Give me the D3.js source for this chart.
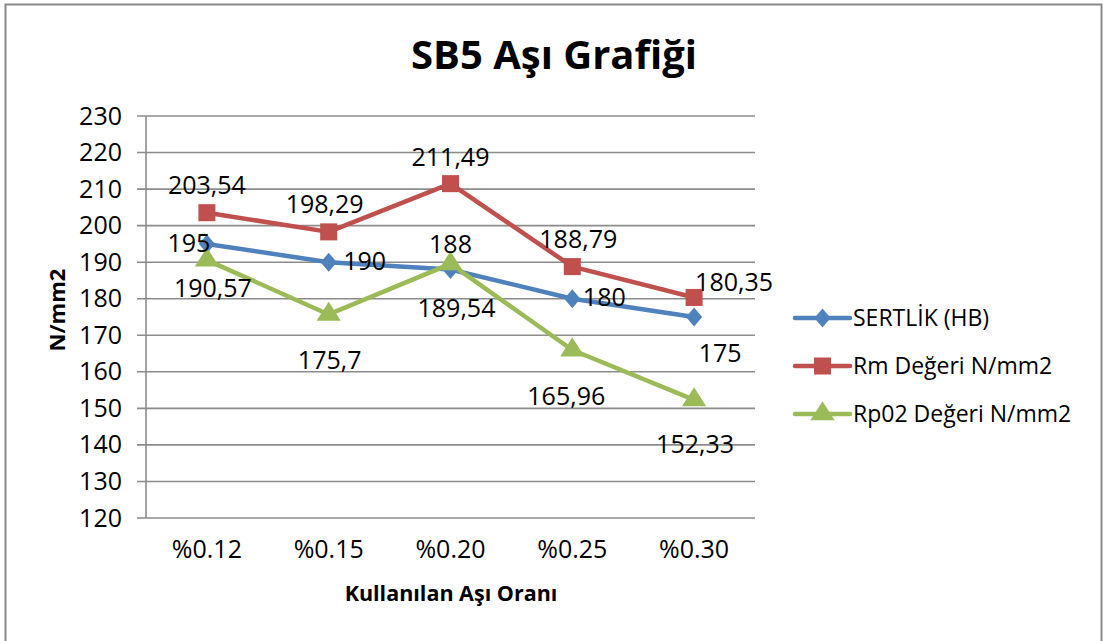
<!DOCTYPE html>
<html>
<head>
<meta charset="utf-8">
<script src="https://cdn.jsdelivr.net/npm/d3@7"></script>
<style>
  body { margin: 0; background: #fff; }
  text { font-family: "Open Sans", "Noto Sans", sans-serif; fill: #000; }
</style>
</head>
<body>
<script>
// chart data
const categories = ['%0.12', '%0.15', '%0.20', '%0.25', '%0.30'];
const sertlik = [195, 190, 188, 180, 175];
const rmDegeri = [203.54, 198.29, 211.49, 188.79, 180.35];
const rp02Degeri = [190.57, 175.7, 189.54, 165.96, 152.33];
const seriesNames = ['SERTLİK (HB)', 'Rm Değeri N/mm2', 'Rp02 Değeri N/mm2'];
const yTicks = [120, 130, 140, 150, 160, 170, 180, 190, 200, 210, 220, 230];

const width = 1103, height = 641;
const margin = { left: 146, right: 348, top: 116, bottom: 123 };

const svg = d3.select('body').append('svg')
    .attr('width', width)
    .attr('height', height);

// outer chart border
svg.append('rect')
    .attr('x', 5.5).attr('y', 4.5)
    .attr('width', 1096).attr('height', 660)
    .attr('fill', 'none')
    .attr('stroke', '#8a8a8a')
    .attr('stroke-width', 2);

const x = d3.scaleBand().domain(categories).range([margin.left, width - margin.right]);
const y = d3.scaleLinear().domain([120, 230]).range([height - margin.bottom, margin.top]);

// gridlines
svg.append('g')
    .selectAll('line')
    .data(yTicks)
    .join('line')
    .attr('x1', margin.left - 9)
    .attr('x2', width - margin.right)
    .attr('y1', d => y(d))
    .attr('y2', d => y(d))
    .attr('stroke', '#8c8c8c')
    .attr('stroke-width', 1.6);

// y axis line
svg.append('line')
    .attr('x1', margin.left).attr('x2', margin.left)
    .attr('y1', y(230)).attr('y2', y(120))
    .attr('stroke', '#8c8c8c')
    .attr('stroke-width', 1.6);

const yAxis = d3.axisLeft(y).tickValues(yTicks).tickSize(0).tickPadding(24);
svg.append('g')
    .attr('transform', `translate(${margin.left},0)`)
    .call(yAxis)
    .call(g => g.select('.domain').remove())
    .selectAll('text')
    .style('font-size', '25px')
    .attr('fill', '#000');

const xAxis = d3.axisBottom(x).tickSize(0).tickPadding(22);
svg.append('g')
    .attr('transform', `translate(0,${y(120)})`)
    .call(xAxis)
    .call(g => g.select('.domain').remove())
    .selectAll('text')
    .style('font-size', '25px')
    .attr('fill', '#000');

// titles
svg.append('text')
    .attr('x', 554).attr('y', 69)
    .attr('text-anchor', 'middle')
    .style('font-size', '40px')
    .style('font-weight', 'bold')
    .text('SB5 Aşı Grafiği');

svg.append('text')
    .attr('x', 451).attr('y', 601)
    .attr('text-anchor', 'middle')
    .style('font-size', '21.5px')
    .style('font-weight', 'bold')
    .text('Kullanılan Aşı Oranı');

svg.append('text')
    .attr('transform', 'translate(65,310) rotate(-90)')
    .attr('text-anchor', 'middle')
    .style('font-size', '22px')
    .style('font-weight', 'bold')
    .text('N/mm2');

const fmt = d3.formatLocale({ decimal: ',', thousands: '.', grouping: [3], currency: ['', ''] }).format('~f');

const series = [
    { name: seriesNames[0], values: sertlik, color: '#4f81bd', symbol: d3.symbolSquare, size: 180, rotate: 45, sx: 0.85,
      place: [[-18, -1], [36, -1], [0, -25], [32, -2], [26, 36]] },
    { name: seriesNames[1], values: rmDegeri, color: '#c0504d', symbol: d3.symbolSquare, size: 290, rotate: 0, sx: 1,
      place: [[0, -28], [-4, -28], [0, -27], [6, -28], [40, -15]] },
    { name: seriesNames[2], values: rp02Degeri, color: '#9bbb59', symbol: d3.symbolTriangle, size: 210, rotate: 0, sx: 1.1,
      place: [[6, 28], [1, 46], [6, 44], [-6, 46], [1, 44]] }
];

const line = d3.line()
    .x((d, i) => x(categories[i]) + x.bandwidth() / 2)
    .y(d => y(d));

const markerTransform = (s, cx, cy) => `translate(${cx},${cy}) scale(${s.sx},1) rotate(${s.rotate})`;

series.forEach(s => {
    svg.append('path')
        .datum(s.values)
        .attr('d', line)
        .attr('fill', 'none')
        .attr('stroke', s.color)
        .attr('stroke-width', 4.5)
        .attr('stroke-linejoin', 'round');
});

series.forEach(s => {
    svg.append('g')
        .selectAll('path')
        .data(s.values)
        .join('path')
        .attr('d', d3.symbol().type(s.symbol).size(s.size))
        .attr('fill', s.color)
        .attr('transform', (d, i) => markerTransform(s, x(categories[i]) + x.bandwidth() / 2, y(d)));
});

// data labels
series.forEach(s => {
    svg.append('g')
        .selectAll('text')
        .data(s.values)
        .join('text')
        .attr('x', (d, i) => x(categories[i]) + x.bandwidth() / 2 + s.place[i][0])
        .attr('y', (d, i) => y(d) + s.place[i][1] + 9)
        .attr('text-anchor', 'middle')
        .style('font-size', '25px')
        .text(d => fmt(d));
});

// legend
const legend = svg.append('g').attr('transform', 'translate(795,318)');
series.forEach((s, i) => {
    const row = legend.append('g').attr('transform', `translate(0,${i * 48})`);
    row.append('line')
        .attr('x1', 0).attr('x2', 55)
        .attr('stroke', s.color)
        .attr('stroke-width', 4.5)
        .attr('stroke-linecap', 'round');
    row.append('path')
        .attr('d', d3.symbol().type(s.symbol).size(s.size))
        .attr('fill', s.color)
        .attr('transform', markerTransform(s, 27.5, 0));
    row.append('text')
        .attr('x', 58).attr('y', 8)
        .style('font-size', '23px')
        .text(s.name);
});
</script>
</body>
</html>
